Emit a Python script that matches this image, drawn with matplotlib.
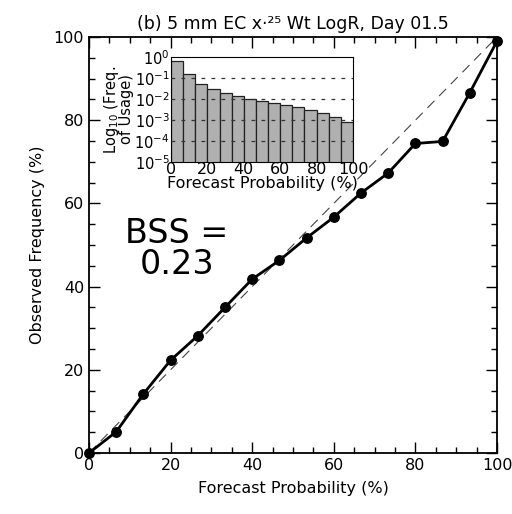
import numpy as np
import matplotlib
matplotlib.use("Agg")
import matplotlib.pyplot as plt
from matplotlib.ticker import MultipleLocator, FixedLocator

# reliability curve (forecast prob vs observed freq)
fcst_prob = [0, 6.67, 13.33, 20, 26.67, 33.33, 40, 46.67, 53.33, 60,
             66.67, 73.33, 80, 86.67, 93.33, 100]
obs_freq = [0.0, 5.1, 14.2, 22.3, 28.2, 35.0, 41.8, 46.3, 51.7, 56.7,
            62.5, 67.3, 74.4, 74.9, 86.6, 99.0]

# inset histogram: frequency of usage per bin
bin_left = [0, 6.67, 13.33, 20, 26.67, 33.33, 40, 46.67, 53.33, 60,
            66.67, 73.33, 80, 86.67, 93.33]
usage = [0.65, 0.15, 0.054, 0.029, 0.0195, 0.0135, 0.0105, 0.0083,
         0.0068, 0.0051, 0.0040, 0.0030, 0.0021, 0.00145, 0.00083]

title = "(b) 5 mm EC x\u00b7\u00b2\u2075 Wt LogR, Day 01.5"
bss_text = "BSS =\n0.23"

plt.rcParams['font.family'] = ['DejaVu Sans']
fs = 11.5

fig = plt.figure(figsize=(5.12, 5.14), dpi=100)
ax = fig.add_axes([89/512, 1 - 453/514, 408/512, 416/514])

ax.plot([0, 100], [0, 100], color='#444444', lw=0.8, dashes=(9, 6))
ax.plot(fcst_prob, obs_freq, color='black', lw=2.0, marker='o', ms=6.8,
        clip_on=False, zorder=3)

ax.set_xlim(0, 100)
ax.set_ylim(0, 100)
ax.xaxis.set_major_locator(MultipleLocator(20))
ax.xaxis.set_minor_locator(MultipleLocator(5))
ax.yaxis.set_major_locator(MultipleLocator(20))
ax.yaxis.set_minor_locator(MultipleLocator(5))
ax.tick_params(which='both', direction='in', top=True, right=True,
               labelsize=fs, width=1.0)
ax.tick_params(which='major', length=8)
ax.tick_params(which='minor', length=4)
for s in ax.spines.values():
    s.set_linewidth(1.3)
ax.set_xlabel("Forecast Probability (%)", fontsize=fs, labelpad=6)
ax.set_ylabel("Observed Frequency (%)", fontsize=fs, labelpad=6)
ax.set_title(title, fontsize=fs + 1, pad=6)

ax.text(21.5, 49, bss_text, fontsize=24, ha='center', va='center',
        linespacing=0.9)

# inset
ins = fig.add_axes([171/512, 1 - 162/514, 182/512, 105/514])
ins.bar(bin_left, usage, width=6.67, align='edge', color='#b0b0b0',
        edgecolor='#222222', linewidth=0.9, zorder=2)
ins.set_yscale('log')
ins.set_ylim(1e-5, 1)
ins.set_xlim(0, 100)
ins.yaxis.set_major_locator(FixedLocator([1e-5, 1e-4, 1e-3, 1e-2, 1e-1, 1]))
ins.yaxis.set_minor_locator(FixedLocator([]))
ins.xaxis.set_major_locator(MultipleLocator(20))
for lvl in [1e-1, 1e-2, 1e-3, 1e-4]:
    ins.axhline(lvl, color='#333333', lw=0.9, ls=(0, (3, 5)), zorder=3)
ins.tick_params(direction='in', length=0, labelsize=fs, pad=0)
ins.tick_params(axis='y', labelsize=fs - 1, pad=1)
ins.set_xlabel("Forecast Probability (%)", fontsize=fs, labelpad=-1)
ins.set_ylabel("Log$_{10}$ (Freq.\nof Usage)", fontsize=fs - 1,
               labelpad=0, linespacing=0.85)
for s in ins.spines.values():
    s.set_linewidth(0.8)

fig.savefig("out.png", dpi=100)
